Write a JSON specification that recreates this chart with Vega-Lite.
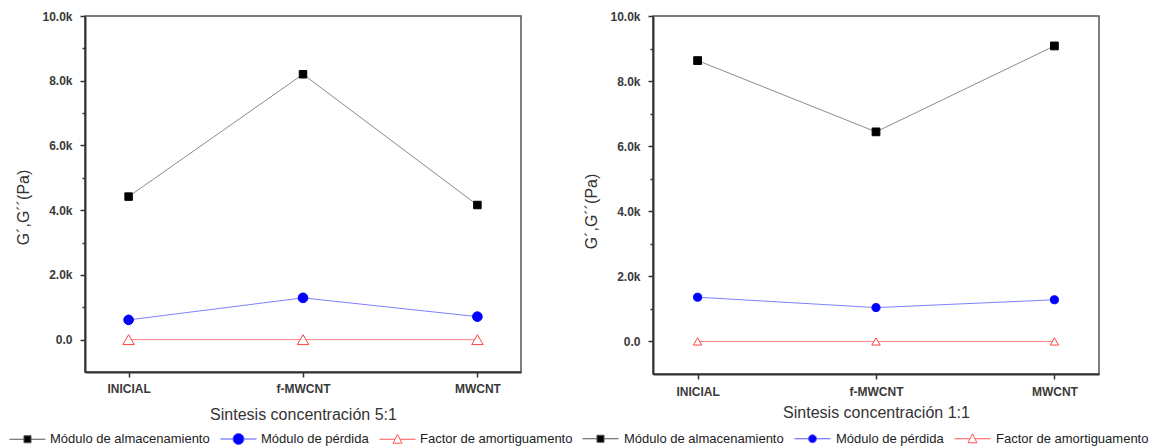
{
  "$schema": "https://vega.github.io/schema/vega-lite/v6.json",
  "background": "white",
  "padding": {"left": 8, "top": 9, "right": 0, "bottom": 0},
  "autosize": {"type": "pad"},
  "config": {
    "font": "Liberation Sans",
    "view": {"stroke": "#555", "strokeWidth": 1.5},
    "axis": {
      "grid": false,
      "domainColor": "#333",
      "domainWidth": 2,
      "tickColor": "#333",
      "tickWidth": 1.5,
      "labelFont": "Liberation Sans",
      "labelFontSize": 12,
      "labelFontWeight": "bold",
      "labelColor": "#3a3a3a",
      "titleFont": "Liberation Sans",
      "titleFontWeight": "normal",
      "titleFontSize": 16,
      "titleColor": "#333"
    },
    "legend": {
      "orient": "none",
      "direction": "horizontal",
      "title": null,
      "padding": 0,
      "symbolSize": 256,
      "symbolOpacity": 1,
      "symbolStrokeWidth": 1,
      "columnPadding": 8,
      "labelFont": "Liberation Sans",
      "labelFontSize": 13,
      "labelColor": "#222",
      "labelLimit": 400
    }
  },
  "data": {
    "values": [
      {"panel": "5:1", "muestra": "INICIAL", "serie": "Módulo de almacenamiento", "valor": 4420},
      {"panel": "5:1", "muestra": "f-MWCNT", "serie": "Módulo de almacenamiento", "valor": 8200},
      {"panel": "5:1", "muestra": "MWCNT", "serie": "Módulo de almacenamiento", "valor": 4160},
      {"panel": "5:1", "muestra": "INICIAL", "serie": "Módulo de pérdida", "valor": 610},
      {"panel": "5:1", "muestra": "f-MWCNT", "serie": "Módulo de pérdida", "valor": 1290},
      {"panel": "5:1", "muestra": "MWCNT", "serie": "Módulo de pérdida", "valor": 710},
      {"panel": "5:1", "muestra": "INICIAL", "serie": "Factor de amortiguamento", "valor": 0.14},
      {"panel": "5:1", "muestra": "f-MWCNT", "serie": "Factor de amortiguamento", "valor": 0.16},
      {"panel": "5:1", "muestra": "MWCNT", "serie": "Factor de amortiguamento", "valor": 0.17},
      {"panel": "1:1", "muestra": "INICIAL", "serie": "Módulo de almacenamiento", "valor": 8630},
      {"panel": "1:1", "muestra": "f-MWCNT", "serie": "Módulo de almacenamiento", "valor": 6440},
      {"panel": "1:1", "muestra": "MWCNT", "serie": "Módulo de almacenamiento", "valor": 9080},
      {"panel": "1:1", "muestra": "INICIAL", "serie": "Módulo de pérdida", "valor": 1360},
      {"panel": "1:1", "muestra": "f-MWCNT", "serie": "Módulo de pérdida", "valor": 1040},
      {"panel": "1:1", "muestra": "MWCNT", "serie": "Módulo de pérdida", "valor": 1280},
      {"panel": "1:1", "muestra": "INICIAL", "serie": "Factor de amortiguamento", "valor": 0.16},
      {"panel": "1:1", "muestra": "f-MWCNT", "serie": "Factor de amortiguamento", "valor": 0.16},
      {"panel": "1:1", "muestra": "MWCNT", "serie": "Factor de amortiguamento", "valor": 0.14}
    ]
  },
  "bounds": "flush",
  "spacing": 132,
  "resolve": {
    "scale": {"color": "independent", "fill": "independent", "stroke": "independent", "shape": "independent", "size": "independent"},
    "legend": {"color": "independent", "fill": "independent", "stroke": "independent", "shape": "independent", "size": "independent"}
  },
  "hconcat": [
    {
      "width": 436,
      "height": 356,
      "transform": [{"filter": "datum.panel == '5:1'"}],
      "encoding": {
        "x": {
          "field": "muestra", "type": "ordinal",
          "sort": ["INICIAL", "f-MWCNT", "MWCNT"],
          "scale": {"type": "point", "padding": 0.25},
          "axis": {"title": "Sintesis concentración 5:1", "labelAngle": 0, "tickSize": 5, "labelPadding": 6, "titlePadding": 12}
        },
        "y": {
          "field": "valor", "type": "quantitative",
          "scale": {"domain": [-1000, 10000], "nice": false, "zero": false},
          "axis": {
            "title": "G´,G´´(Pa)",
            "values": [0, 1000, 2000, 3000, 4000, 5000, 6000, 7000, 8000, 9000, 10000],
            "labelExpr": "datum.value % 2000 != 0 ? '' : (datum.value == 0 ? '0.0' : format(datum.value / 1000, '.1f') + 'k')",
            "tickSize": {"condition": {"test": "datum.value % 2000 != 0", "value": 3}, "value": 5},
            "labelPadding": 8,
            "titlePadding": 10,
            "titleY": 191
          }
        }
      },
      "resolve": {"scale": {"shape": "independent", "fill": "independent", "stroke": "independent", "size": "independent"}},
      "layer": [
        {
          "mark": {"type": "line", "strokeWidth": 1},
          "encoding": {
            "color": {
              "field": "serie", "type": "nominal",
              "scale": {"domain": ["Módulo de almacenamiento", "Módulo de pérdida", "Factor de amortiguamento"], "range": ["#8c8c8c", "#8080ff", "#ff8080"]},
              "legend": null
            }
          }
        },
        {
          "mark": {"type": "point", "opacity": 1, "strokeWidth": 1, "filled": true},
          "encoding": {
            "shape": {"field": "serie", "type": "nominal", "scale": {"domain": ["Módulo de almacenamiento", "Módulo de pérdida", "Factor de amortiguamento"], "range": ["square", "circle", "triangle-up"]}, "legend": null},
            "fill": {"field": "serie", "type": "nominal", "scale": {"domain": ["Módulo de almacenamiento", "Módulo de pérdida", "Factor de amortiguamento"], "range": ["#000000", "#0000ff", "#ffffff"]}, "legend": null},
            "stroke": {"field": "serie", "type": "nominal", "scale": {"domain": ["Módulo de almacenamiento", "Módulo de pérdida", "Factor de amortiguamento"], "range": ["#000000", "#0000ff", "#ff4444"]}, "legend": null},
            "size": {"field": "serie", "type": "ordinal", "scale": {"domain": ["Módulo de almacenamiento", "Módulo de pérdida", "Factor de amortiguamento"], "range": [56, 130, 70]}, "legend": null}
          }
        },
        {
          "mark": {"type": "point", "opacity": 0, "strokeWidth": 1, "filled": true},
          "encoding": {
            "shape": {"field": "serie", "type": "nominal",
              "scale": {"domain": ["Módulo de almacenamiento", "Módulo de pérdida", "Factor de amortiguamento"], "range": ["M-1,0H0.81M1.69,0H3.5M0.81,-0.44H1.69V0.44H0.81Z", "M-1,0H0.56M1.94,0H3.5M1.94,0A0.69,0.69 0 1,1 0.56,0A0.69,0.69 0 1,1 1.94,0Z", "M-1,0H0.94M1.56,0H3.5M1.25,-0.62L1.81,0.5H0.69Z"]},
              "legend": {"legendX": -76, "legendY": 414, "labelOffset": 24}},
            "fill": {"field": "serie", "type": "nominal", "scale": {"domain": ["Módulo de almacenamiento", "Módulo de pérdida", "Factor de amortiguamento"], "range": ["#000000", "#0000ff", "#ffffff"]},
              "legend": {"legendX": -76, "legendY": 414, "labelOffset": 24}},
            "stroke": {"field": "serie", "type": "nominal", "scale": {"domain": ["Módulo de almacenamiento", "Módulo de pérdida", "Factor de amortiguamento"], "range": ["#555555", "#5555ff", "#ff5555"]},
              "legend": {"legendX": -76, "legendY": 414, "labelOffset": 24}}
          }
        }
      ]
    },
    {
      "width": 446,
      "height": 358,
      "transform": [{"filter": "datum.panel == '1:1'"}],
      "encoding": {
        "x": {
          "field": "muestra", "type": "ordinal",
          "sort": ["INICIAL", "f-MWCNT", "MWCNT"],
          "scale": {"type": "point", "padding": 0.25},
          "axis": {"title": "Sintesis concentración 1:1", "labelAngle": 0, "tickSize": 5, "labelPadding": 7, "titlePadding": 7}
        },
        "y": {
          "field": "valor", "type": "quantitative",
          "scale": {"domain": [-1000, 10000], "nice": false, "zero": false},
          "axis": {
            "title": "G´,G´´(Pa)",
            "values": [0, 1000, 2000, 3000, 4000, 5000, 6000, 7000, 8000, 9000, 10000],
            "labelExpr": "datum.value % 2000 != 0 ? '' : (datum.value == 0 ? '0.0' : format(datum.value / 1000, '.1f') + 'k')",
            "tickSize": {"condition": {"test": "datum.value % 2000 != 0", "value": 3}, "value": 5},
            "labelPadding": 8,
            "titlePadding": 10,
            "titleY": 195
          }
        }
      },
      "resolve": {"scale": {"shape": "independent", "fill": "independent", "stroke": "independent", "size": "independent"}},
      "layer": [
        {
          "mark": {"type": "line", "strokeWidth": 1},
          "encoding": {
            "color": {
              "field": "serie", "type": "nominal",
              "scale": {"domain": ["Módulo de almacenamiento", "Módulo de pérdida", "Factor de amortiguamento"], "range": ["#8c8c8c", "#8080ff", "#ff8080"]},
              "legend": null
            }
          }
        },
        {
          "mark": {"type": "point", "opacity": 1, "strokeWidth": 1, "filled": true},
          "encoding": {
            "shape": {"field": "serie", "type": "nominal", "scale": {"domain": ["Módulo de almacenamiento", "Módulo de pérdida", "Factor de amortiguamento"], "range": ["square", "circle", "triangle-up"]}, "legend": null},
            "fill": {"field": "serie", "type": "nominal", "scale": {"domain": ["Módulo de almacenamiento", "Módulo de pérdida", "Factor de amortiguamento"], "range": ["#000000", "#0000ff", "#ffffff"]}, "legend": null},
            "stroke": {"field": "serie", "type": "nominal", "scale": {"domain": ["Módulo de almacenamiento", "Módulo de pérdida", "Factor de amortiguamento"], "range": ["#000000", "#0000ff", "#ff4444"]}, "legend": null},
            "size": {"field": "serie", "type": "ordinal", "scale": {"domain": ["Módulo de almacenamiento", "Módulo de pérdida", "Factor de amortiguamento"], "range": [60, 70, 70]}, "legend": null}
          }
        },
        {
          "mark": {"type": "point", "opacity": 0, "strokeWidth": 1, "filled": true},
          "encoding": {
            "shape": {"field": "serie", "type": "nominal",
              "scale": {"domain": ["Módulo de almacenamiento", "Módulo de pérdida", "Factor de amortiguamento"], "range": ["M-1,0H0.81M1.69,0H3.5M0.81,-0.44H1.69V0.44H0.81Z", "M-1,0H0.75M1.75,0H3.5M1.75,0A0.5,0.5 0 1,1 0.75,0A0.5,0.5 0 1,1 1.75,0Z", "M-1,0H0.94M1.56,0H3.5M1.25,-0.62L1.81,0.5H0.69Z"]},
              "legend": {"legendX": -71, "legendY": 414, "labelOffset": 25}},
            "fill": {"field": "serie", "type": "nominal", "scale": {"domain": ["Módulo de almacenamiento", "Módulo de pérdida", "Factor de amortiguamento"], "range": ["#000000", "#0000ff", "#ffffff"]},
              "legend": {"legendX": -71, "legendY": 414, "labelOffset": 25}},
            "stroke": {"field": "serie", "type": "nominal", "scale": {"domain": ["Módulo de almacenamiento", "Módulo de pérdida", "Factor de amortiguamento"], "range": ["#555555", "#5555ff", "#ff5555"]},
              "legend": {"legendX": -71, "legendY": 414, "labelOffset": 25}}
          }
        }
      ]
    }
  ]
}
